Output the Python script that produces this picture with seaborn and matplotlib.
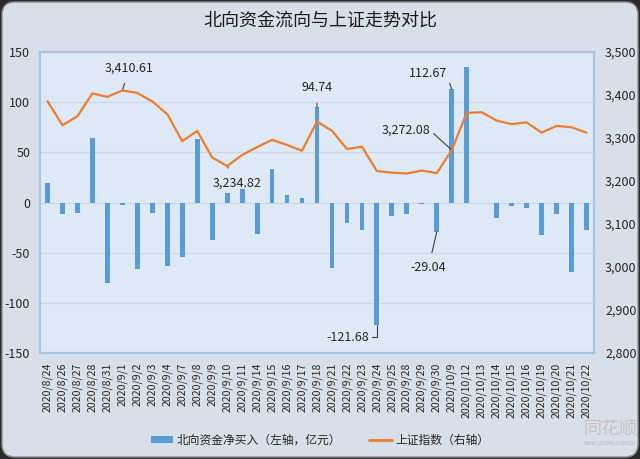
import matplotlib
matplotlib.use("Agg")
import matplotlib.pyplot as plt
import seaborn as sns
import pandas as pd
from matplotlib.patches import FancyBboxPatch
from matplotlib.lines import Line2D
from matplotlib.patches import Patch

dates = ["2020/8/24", "2020/8/26", "2020/8/27", "2020/8/28", "2020/8/31", "2020/9/1",
         "2020/9/2", "2020/9/3", "2020/9/4", "2020/9/7", "2020/9/8", "2020/9/9",
         "2020/9/10", "2020/9/11", "2020/9/14", "2020/9/15", "2020/9/16", "2020/9/17",
         "2020/9/18", "2020/9/21", "2020/9/22", "2020/9/23", "2020/9/24", "2020/9/25",
         "2020/9/28", "2020/9/29", "2020/9/30", "2020/10/9", "2020/10/12", "2020/10/13",
         "2020/10/14", "2020/10/15", "2020/10/16", "2020/10/19", "2020/10/20",
         "2020/10/21", "2020/10/22"]

north_flow = [19.5, -11.7, -10.3, 64.7, -80.7, -2.3, -66.7, -10.3, -63.7, -54.7,
              63.7, -37.7, 9.7, 13.0, -31.3, 33.3, 7.7, 4.7, 94.74, -65.3, -20.0,
              -27.7, -121.68, -13.0, -11.0, -1.0, -29.04, 112.67, 135.0, 0.0,
              -15.7, -3.7, -5.0, -32.3, -11.3, -69.0, -27.7]

sh_index = [3385.6, 3329.7, 3350.6, 3403.8, 3395.7, 3410.61, 3404.8, 3385.0, 3355.4,
            3292.6, 3316.4, 3254.6, 3234.82, 3260.4, 3278.8, 3295.7, 3283.9, 3270.4,
            3338.1, 3316.9, 3274.3, 3279.7, 3223.2, 3219.4, 3217.5, 3224.4, 3218.1,
            3272.08, 3358.5, 3359.8, 3340.5, 3332.2, 3336.4, 3312.5, 3328.1, 3325.0,
            3312.5]

title = "北向资金流向与上证走势对比"
bar_label = "北向资金净买入（左轴，亿元）"
line_label = "上证指数（右轴）"

left_ticks = [-150, -100, -50, 0, 50, 100, 150]
right_ticks = [2800, 2900, 3000, 3100, 3200, 3300, 3400, 3500]

sns.set_theme(style="white")
plt.rcParams["font.family"] = ["Noto Sans CJK SC", "DejaVu Sans"]

BAR_C = "#5B9BD5"
LINE_C = "#ED7D31"
TXT_C = "#262626"

fig = plt.figure(figsize=(6.4, 4.59), dpi=100)
fig.patch.set_facecolor("#2a2a2a")
bg = FancyBboxPatch((0.02, 0.02), 6.36, 4.55,
                    boxstyle="round,pad=0,rounding_size=0.13",
                    transform=fig.dpi_scale_trans, facecolor="#d8dfe8",
                    edgecolor="#8a8f96", linewidth=1.0, zorder=-10)
fig.patches.append(bg)

ax = fig.add_axes([40/640, 1-353/459, 554/640, 301/459])
df = pd.DataFrame({"date": dates, "flow": north_flow, "idx": sh_index})

sns.barplot(data=df, x="date", y="flow", color=BAR_C, width=0.32, saturation=1,
            linewidth=0, edgecolor="none", ax=ax, zorder=3)
ax.set_facecolor("#dde9f5")
ax.set_ylim(-150, 150)
ax.set_yticks(left_ticks)
ax.set_yticklabels([str(t) for t in left_ticks])
ax.set_xlim(-0.5, len(dates) - 0.5)
ax.grid(axis="y", color="#c9d7e6", linewidth=0.8, zorder=0)
ax.grid(axis="x", visible=False)
ax.set_axisbelow(True)
ax.set_xlabel("")
ax.set_ylabel("")
ax.tick_params(axis="y", length=0, pad=7, labelsize=9, labelcolor=TXT_C)
ax.tick_params(axis="x", length=0, pad=7, labelsize=7.6, labelcolor=TXT_C)
ax.set_xticks(range(len(dates)))
ax.set_xticklabels(dates, rotation=90)
for s in ax.spines.values():
    s.set_color("#a7c6e4")
    s.set_linewidth(1.6)

ax2 = ax.twinx()
sns.lineplot(x=list(range(len(dates))), y=sh_index, color=LINE_C, linewidth=1.6,
             ax=ax2, zorder=4)
ax2.set_ylim(2800, 3500)
ax2.set_yticks(right_ticks)
ax2.set_yticklabels([f"{t:,}" for t in right_ticks])
ax2.tick_params(axis="y", length=0, pad=8, labelsize=9, labelcolor=TXT_C)
ax2.set_ylabel("")
ax2.grid(False)
for s in ax2.spines.values():
    s.set_visible(False)

ann_kw = dict(fontsize=9, color=TXT_C, ha="center", va="center",
              textcoords="offset points",
              arrowprops=dict(arrowstyle="-", color="#404040", lw=0.8,
                              shrinkA=4, shrinkB=0))

# annotations on index line
i = 5
ax2.annotate(f"{sh_index[i]:,.2f}", xy=(i, sh_index[i]), xytext=(5, 16), **ann_kw)
i = 12
ax2.annotate(f"{sh_index[i]:,.2f}", xy=(i, sh_index[i]), xytext=(7, -12), **ann_kw)
i = 27
ax2.annotate(f"{sh_index[i]:,.2f}", xy=(i, sh_index[i]), xytext=(-33, 14),
             fontsize=9, color=TXT_C, ha="center", va="center",
             textcoords="offset points",
             arrowprops=dict(arrowstyle="-", color="#404040", lw=0.8,
                             shrinkA=0, shrinkB=0, relpos=(1.0, 0.5)))
# annotations on bars
i = 18
ax2.annotate(f"{north_flow[i]:.2f}", xy=(i, 3150 + north_flow[i] * 7 / 3),
             xytext=(0, 14), **ann_kw)
i = 27
ax2.annotate(f"{north_flow[i]:.2f}", xy=(i, 3150 + north_flow[i] * 7 / 3),
             xytext=(-17, 11.5), fontsize=9, color=TXT_C, ha="center", va="center",
             textcoords="offset points",
             arrowprops=dict(arrowstyle="-", color="#404040", lw=0.8,
                             shrinkA=0, shrinkB=0, relpos=(1.0, 0.3)))
i = 22
ax2.annotate(f"{north_flow[i]:.2f}", xy=(i, 3150 + north_flow[i] * 7 / 3),
             xytext=(-21, -9), fontsize=9, color=TXT_C, ha="center", va="center",
             textcoords="offset points",
             arrowprops=dict(arrowstyle="-", color="#404040", lw=0.8,
                             shrinkA=0, shrinkB=0, relpos=(1.0, 0.5),
                             connectionstyle="angle,angleA=0,angleB=90,rad=0"))
i = 26
ax2.annotate(f"{north_flow[i]:.2f}", xy=(i, 3150 + north_flow[i] * 7 / 3),
             xytext=(-6, -26), **ann_kw)

fig.text(0.5, 1 - 22/459, title, ha="center", va="center", fontsize=13,
         color="#1a1a1a")

handles = [Patch(facecolor=BAR_C, edgecolor="none"),
           Line2D([0], [0], color=LINE_C, lw=2)]
leg = fig.legend(handles, [bar_label, line_label], loc="center", ncol=2,
                 bbox_to_anchor=(0.5, 1 - 440/459), frameon=False, fontsize=8.5,
                 handlelength=1.9, handleheight=0.5, columnspacing=2.4,
                 handletextpad=0.3)
for t in leg.get_texts():
    t.set_color(TXT_C)

fig.text(610/640, 1 - 429/459, "同花顺", ha="center", va="center", fontsize=13,
         color="#c6b9c0", alpha=0.8, style="italic")
fig.text(610/640, 1 - 443/459, "WWW.10JQKA.COM.CN", ha="center", va="center",
         fontsize=3.5, color="#b8b8c0")

fig.savefig("out.png", dpi=100, facecolor=fig.get_facecolor())
